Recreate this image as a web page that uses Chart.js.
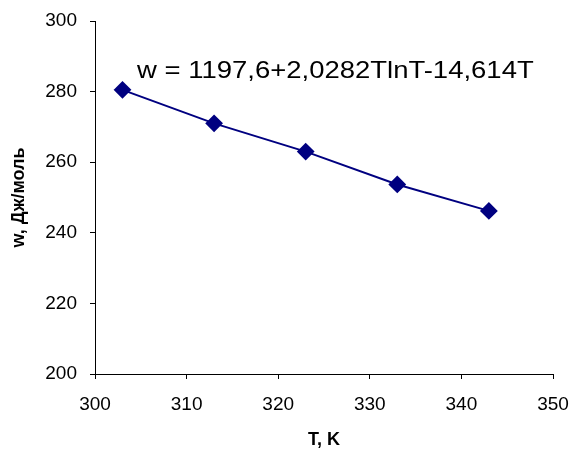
<!DOCTYPE html>
<html>
<head>
<meta charset="utf-8">
<script src="https://cdn.jsdelivr.net/npm/chart.js@4"></script>
<style>
  html, body { margin: 0; padding: 0; background: #fff; }
  #wrap { width: 573px; height: 451px; }
</style>
</head>
<body>
<div id="wrap"><canvas id="chart"></canvas></div>
<script>
'use strict';

let canvasElem = document.getElementById('chart');

// values
let temps = [303, 313, 323, 333, 343];
let works = [280.5, 271, 263, 253.7, 246.2];
let xTicks = [300, 310, 320, 330, 340, 350];
let yTicks = [200, 220, 240, 260, 280, 300];
let equation = 'w = 1197,6+2,0282TlnT-14,614T';

let points = [];
for (let i = 0; i < temps.length; i++) {
  points.push({ x: temps[i], y: works[i] });
}

// equation label of the trend line (slightly wide, like the original)
let equationLabel = {
  id: 'equationLabel',
  afterDatasetsDraw(chart) {
    let ctx = chart.ctx;
    ctx.save();
    ctx.font = '24px "Liberation Sans", Arial, sans-serif';
    ctx.fillStyle = '#000';
    ctx.textBaseline = 'alphabetic';
    ctx.textAlign = 'left';
    ctx.translate(137, 78);
    ctx.scale(1.145, 1);
    ctx.fillText(equation, 0, 0);
    ctx.restore();
  }
};

function renderChart() {
  Chart.defaults.font.family = '"Liberation Sans", Arial, sans-serif';
  Chart.defaults.color = '#000';

  let chartObj = {
    type: 'scatter',
    data: {
      datasets: [{
        data: points,
        showLine: true,
        borderColor: '#000080',
        backgroundColor: '#000080',
        borderWidth: 2,
        pointStyle: 'rectRot',
        pointRadius: 7.5,
        pointHoverRadius: 7.5
      }]
    },
    options: {
      responsive: true,
      maintainAspectRatio: false,
      animation: false,
      layout: { padding: { top: 21, right: 20, left: 0, bottom: 0 } },
      plugins: {
        legend: { display: false },
        tooltip: { enabled: false }
      },
      scales: {
        x: {
          type: 'linear',
          min: 300,
          max: 350,
          afterBuildTicks(scale) { scale.ticks = xTicks.map(v => ({ value: v })); },
          afterFit(scale) {
            scale.height = 77;
            scale.paddingLeft = 0;
            scale.paddingRight = 0;
          },
          border: { color: '#000', width: 1 },
          grid: { drawOnChartArea: false, color: '#000', tickLength: 5 },
          ticks: { font: { size: 19 }, padding: 14, maxRotation: 0 },
          title: {
            display: true,
            text: 'T, K',
            font: { size: 18, weight: 'bold' },
            padding: { top: 14, bottom: 0 }
          }
        },
        y: {
          min: 200,
          max: 300,
          afterBuildTicks(scale) { scale.ticks = yTicks.map(v => ({ value: v })); },
          afterFit(scale) {
            scale.width = 95;
            scale.paddingTop = 0;
            scale.paddingBottom = 0;
          },
          border: { color: '#000', width: 1 },
          grid: { drawOnChartArea: false, color: '#000', tickLength: 5 },
          ticks: { font: { size: 19 }, padding: 13 },
          title: {
            display: true,
            text: 'w, Дж/моль',
            font: { size: 18, weight: 'bold' },
            padding: { top: 8, bottom: 6 }
          }
        }
      }
    },
    plugins: [equationLabel]
  };

  new Chart(canvasElem, chartObj); //eslint-disable-line
}

renderChart();
</script>
</body>
</html>
